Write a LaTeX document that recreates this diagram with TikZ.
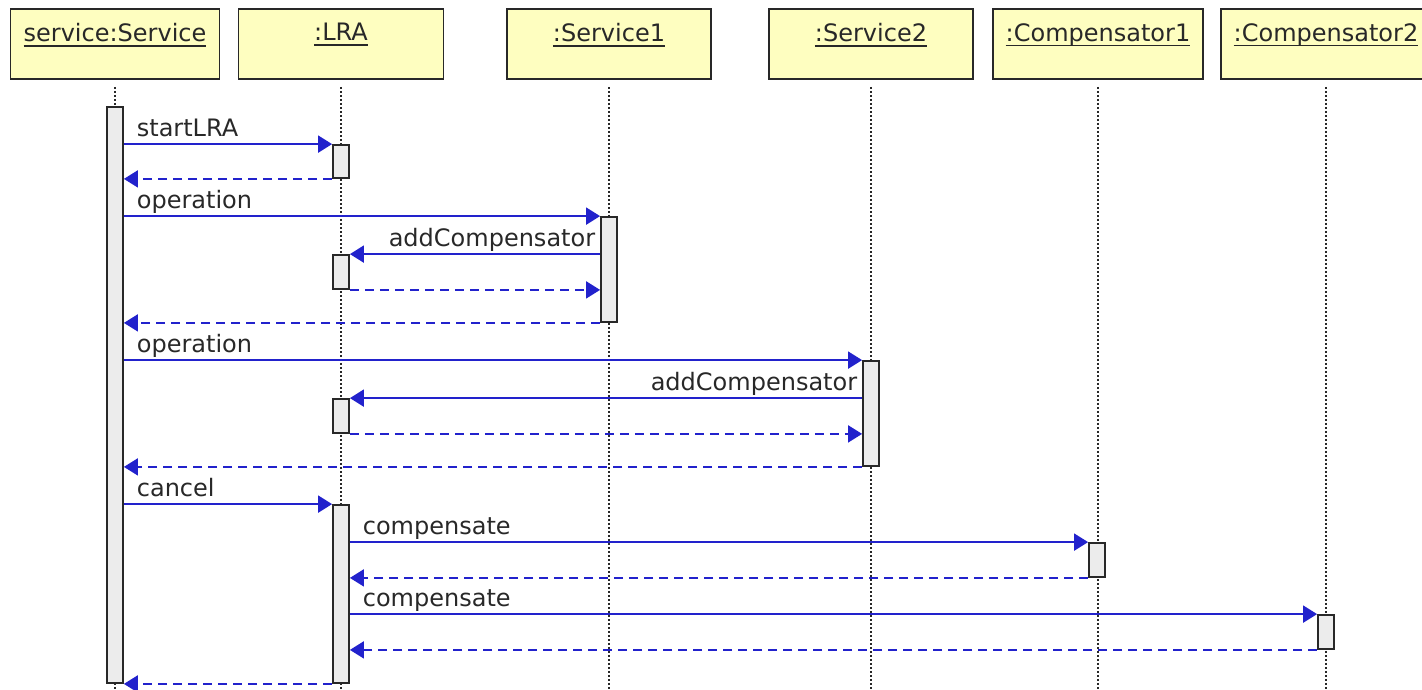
\documentclass[tikz,border=0pt]{standalone}
\usepackage{fontspec}
\setmainfont{DejaVu Sans}
\usetikzlibrary{arrows.meta}
\definecolor{msgblue}{RGB}{34,34,204}
\definecolor{headfill}{RGB}{254,254,192}
\definecolor{barfill}{RGB}{236,236,236}
\definecolor{inkgray}{RGB}{40,40,40}
\newcommand\uline[1]{{\setbox0\hbox{#1}\rlap{\rule[-5pt]{\wd0}{1.6pt}}\box0}}
\begin{document}
\begin{tikzpicture}[x=1pt, y=-1pt,
		font=\fontsize{24}{28}\selectfont, text=inkgray,
		head/.style={draw=inkgray, line width=1.8pt, fill=headfill, minimum height=70pt, inner sep=0pt},
		headlbl/.style={anchor=north, yshift=-15pt, inner sep=0pt},
		lifeline/.style={draw=inkgray, line width=1.4pt, dash pattern=on 2pt off 2pt},
		actbar/.style={draw=inkgray, line width=1.8pt, fill=barfill, minimum width=16pt, inner sep=0pt},
		call/.style={draw=msgblue, line width=1.9pt, -{Triangle[length=14pt, width=17pt]}},
		reply/.style={call, dash pattern=on 9pt off 6pt},
		msglbl/.style={inner sep=0pt, yshift=8pt}]
		%%%%% START %%%%%
		\useasboundingbox (0, 0) rectangle (1422, 689);
		
		% participants
		\node[head, minimum width=209pt, label={[headlbl]north:\uline{service:Service}}] (svc) at (115, 44) {};
		\node[head, minimum width=205pt, label={[headlbl]north:\uline{:LRA}}] (lra) at (341, 44) {};
		\node[head, minimum width=204pt, label={[headlbl]north:\uline{:Service1}}] (srv1) at (609, 44) {};
		\node[head, minimum width=204pt, label={[headlbl]north:\uline{:Service2}}] (srv2) at (871, 44) {};
		\node[head, minimum width=210pt, label={[headlbl]north:\uline{:Compensator1}}] (comp1) at (1098, 44) {};
		\node[head, minimum width=210pt, label={[headlbl]north:\uline{:Compensator2}}] (comp2) at (1326, 44) {};
		
		% lifelines
		\foreach \p in {svc, lra, srv1, srv2, comp1, comp2}
			\draw[lifeline] ([yshift=-7pt]\p.south) -- (\p.south |- 0, 689);
		
		% activations
		\node[actbar, minimum height=576pt] (svcbar) at (115, 395) {};
		\node[actbar, minimum height=33pt] (lrabarA) at (341, 161.5) {};
		\node[actbar, minimum height=105pt] (srv1bar) at (609, 269.5) {};
		\node[actbar, minimum height=34pt] (lrabarB) at (341, 272) {};
		\node[actbar, minimum height=105pt] (srv2bar) at (871, 413.5) {};
		\node[actbar, minimum height=34pt] (lrabarC) at (341, 416) {};
		\node[actbar, minimum height=178pt] (lrabarD) at (341, 594) {};
		\node[actbar, minimum height=34pt] (comp1bar) at (1097, 560) {};
		\node[actbar, minimum height=34pt] (comp2bar) at (1326, 632) {};
		
		% startLRA
		\draw[call] (svcbar.east |- lrabarA.north) -- node[msglbl, pos=0, anchor=base west, xshift=12pt] {startLRA} (lrabarA.north west);
		\draw[reply] (lrabarA.south west) -- (svcbar.east |- lrabarA.south);
		
		% operation on Service1
		\draw[call] (svcbar.east |- srv1bar.north) -- node[msglbl, pos=0, anchor=base west, xshift=12pt] {operation} (srv1bar.north west);
		\draw[call] (srv1bar.west |- lrabarB.north) -- node[msglbl, pos=0, anchor=base east, xshift=-4pt] {addCompensator} (lrabarB.north east);
		\draw[reply] (lrabarB.south east) -- (srv1bar.west |- lrabarB.south);
		\draw[reply] (srv1bar.south west) -- (svcbar.east |- srv1bar.south);
		
		% operation on Service2
		\draw[call] (svcbar.east |- srv2bar.north) -- node[msglbl, pos=0, anchor=base west, xshift=12pt] {operation} (srv2bar.north west);
		\draw[call] (srv2bar.west |- lrabarC.north) -- node[msglbl, pos=0, anchor=base east, xshift=-4pt] {addCompensator} (lrabarC.north east);
		\draw[reply] (lrabarC.south east) -- (srv2bar.west |- lrabarC.south);
		\draw[reply] (srv2bar.south west) -- (svcbar.east |- srv2bar.south);
		
		% cancel
		\draw[call] (svcbar.east |- lrabarD.north) -- node[msglbl, pos=0, anchor=base west, xshift=12pt] {cancel} (lrabarD.north west);
		\draw[call] (lrabarD.east |- comp1bar.north) -- node[msglbl, pos=0, anchor=base west, xshift=12pt] {compensate} (comp1bar.north west);
		\draw[reply] (comp1bar.south west) -- (lrabarD.east |- comp1bar.south);
		\draw[call] (lrabarD.east |- comp2bar.north) -- node[msglbl, pos=0, anchor=base west, xshift=12pt] {compensate} (comp2bar.north west);
		\draw[reply] (comp2bar.south west) -- (lrabarD.east |- comp2bar.south);
		\draw[reply] (lrabarD.south west) -- (svcbar.south east);
		%%%%% END %%%%%
\end{tikzpicture}
\end{document}
